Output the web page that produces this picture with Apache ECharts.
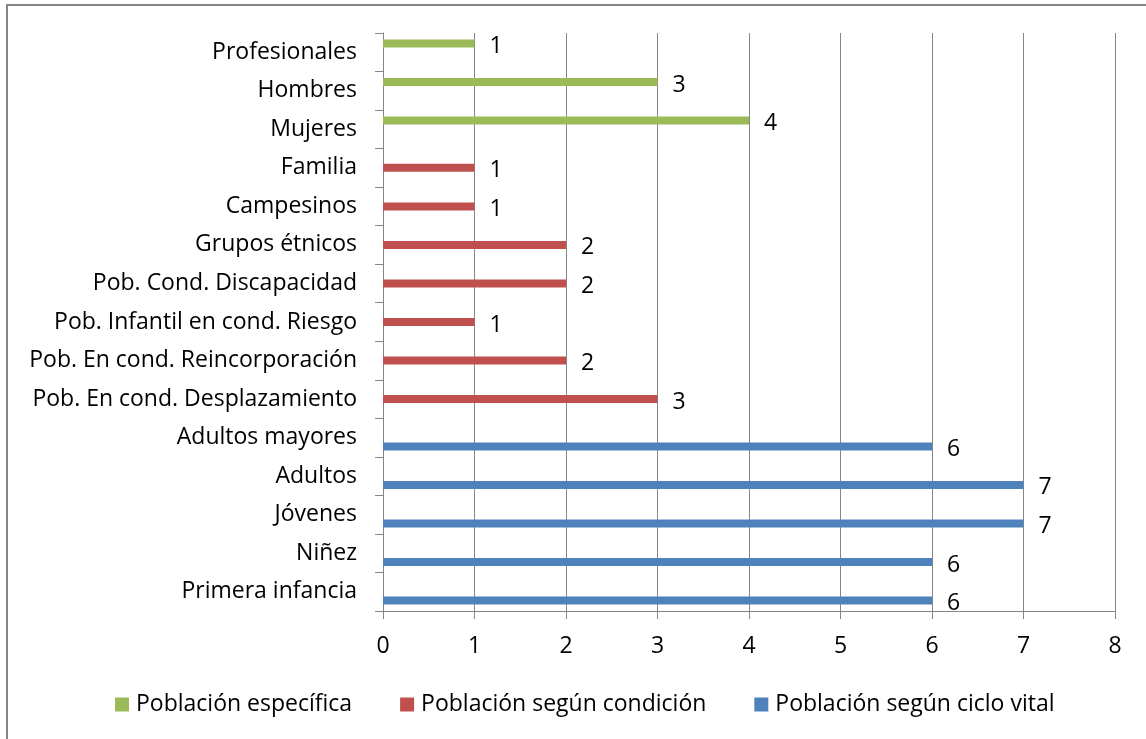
<!DOCTYPE html>
<html>
<head>
<meta charset="utf-8">
<script src="https://cdn.jsdelivr.net/npm/echarts@6/dist/echarts.min.js"></script>
<style>
  html, body { margin: 0; padding: 0; background: #fff; }
  #chart { width: 1146px; height: 739px; }
</style>
</head>
<body>
<div id="chart"></div>
<script>
// categories bottom -> top (category axis starts at the bottom)
var categories = [
  'Primera infancia', 'Niñez', 'Jóvenes', 'Adultos', 'Adultos mayores',
  'Pob. En cond. Desplazamiento', 'Pob. En cond. Reincorporación',
  'Pob. Infantil en cond. Riesgo', 'Pob. Cond. Discapacidad', 'Grupos étnicos',
  'Campesinos', 'Familia', 'Mujeres', 'Hombres', 'Profesionales'
];
var especifica = [null, null, null, null, null, null, null, null, null, null, null, null, 4, 3, 1];
var condicion = [null, null, null, null, null, 3, 2, 1, 2, 2, 1, 1, null, null, null];
var cicloVital = [6, 6, 7, 7, 6, null, null, null, null, null, null, null, null, null, null];
var xTicks = [0, 1, 2, 3, 4, 5, 6, 7, 8];

var font = 'Open Sans';
var fs = 23;
var gray = '#868686';

var chart = echarts.init(document.getElementById('chart'));

function barSeries(name, color, data) {
  return {
    name: name,
    type: 'bar',
    data: data,
    barWidth: 8,
    barGap: '10%',
    itemStyle: { color: color },
    label: {
      show: true,
      position: 'right',
      distance: 15,
      offset: [0, 3],
      color: '#000',
      fontFamily: font,
      fontSize: fs
    },
    animation: false
  };
}

chart.setOption({
  backgroundColor: '#fff',
  textStyle: { fontFamily: font },
  graphic: [{
    type: 'rect',
    shape: { x: 7, y: 5, width: 1200, height: 800 },
    style: { fill: 'none', stroke: gray, lineWidth: 2 },
    silent: true
  }],
  grid: { left: 383, right: 31, top: 33, bottom: 128 },
  legend: {
    bottom: 18,
    left: 110,
    itemWidth: 14,
    itemHeight: 14,
    itemGap: 48,
    icon: 'rect',
    textStyle: { fontFamily: font, fontSize: fs, color: '#000', padding: [0, 0, 0, 2] },
    data: ['Población específica', 'Población según condición', 'Población según ciclo vital']
  },
  xAxis: {
    type: 'value',
    min: xTicks[0],
    max: xTicks[xTicks.length - 1],
    interval: 1,
    axisLine: { show: true, lineStyle: { color: gray } },
    axisTick: { show: true, length: 8, lineStyle: { color: gray } },
    splitLine: { show: true, lineStyle: { color: gray, width: 1 } },
    axisLabel: { color: '#000', fontFamily: font, fontSize: fs, margin: 24 }
  },
  yAxis: {
    type: 'category',
    data: categories,
    axisLine: { show: true, lineStyle: { color: gray } },
    axisTick: { show: true, length: 8, lineStyle: { color: gray } },
    axisLabel: { color: '#000', fontFamily: font, fontSize: fs, margin: 26, padding: [6, 0, 0, 0] }
  },
  series: [
    barSeries('Población específica', '#9bbb59', especifica),
    barSeries('Población según condición', '#c0504d', condicion),
    barSeries('Población según ciclo vital', '#4f81bd', cicloVital)
  ]
});
</script>
</body>
</html>
